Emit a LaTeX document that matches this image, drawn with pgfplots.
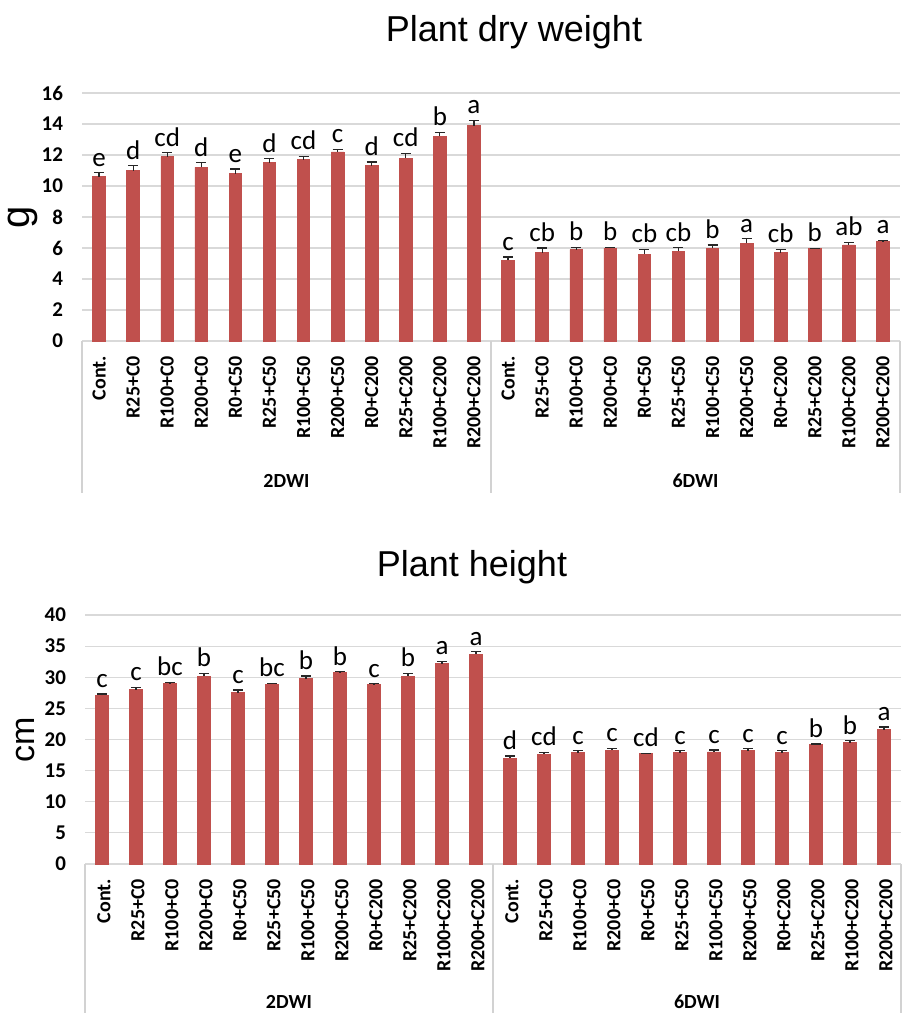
\documentclass[border=0pt]{standalone}
\usepackage{pgfplots}
\pgfplotsset{compat=1.18}
\usepackage{pgfplotstable}
\usepackage{fontspec}
\setmainfont{Carlito}
\newfontfamily\arialfont{Liberation Sans}
\definecolor{barred}{RGB}{192,80,77}
\definecolor{gridc}{RGB}{217,217,217}
\definecolor{sepc}{RGB}{210,210,210}

\pgfplotstableread{
x y e lab
0 10.6 0.25 e
1 11.0 0.30 d
2 11.9 0.25 cd
3 11.2 0.30 d
4 10.8 0.30 e
5 11.5 0.25 d
6 11.7 0.20 cd
7 12.2 0.15 c
8 11.3 0.25 d
9 11.8 0.30 cd
10 13.2 0.25 b
11 13.9 0.35 a
12 5.2 0.22 c
13 5.7 0.30 cb
14 5.9 0.15 b
15 6.0 0.05 b
16 5.6 0.32 cb
17 5.8 0.22 cb
18 6.0 0.20 b
19 6.3 0.30 a
20 5.7 0.20 cb
21 5.95 0.03 b
22 6.2 0.15 ab
23 6.4 0.10 a
}\dataW

\pgfplotstableread{
x y e lab
0 27.1 0.20 c
1 28.0 0.40 c
2 29.0 0.15 bc
3 30.2 0.45 b
4 27.5 0.45 c
5 28.9 0.10 bc
6 29.8 0.40 b
7 30.8 0.10 b
8 28.8 0.15 c
9 30.2 0.45 b
10 32.2 0.35 a
11 33.7 0.40 a
12 17.0 0.35 d
13 17.6 0.30 cd
14 17.9 0.30 c
15 18.3 0.30 c
16 17.7 0.10 cd
17 17.9 0.30 c
18 18.0 0.30 c
19 18.2 0.30 c
20 17.9 0.30 c
21 19.2 0.08 b
22 19.5 0.30 b
23 21.6 0.40 a
}\dataH

\pgfplotsset{
 mychart/.style={
  scale only axis,
  xmin=-0.5, xmax=23.5, ymin=0,
  enlargelimits=false,
  axis line style={draw=none},
  major tick length=0pt,
  ymajorgrids, grid style={gridc, line width=0.6pt},
  xtick={0,...,23},
  xticklabels={Cont.,R25+C0,R100+C0,R200+C0,R0+C50,R25+C50,R100+C50,R200+C50,R0+C200,R25+C200,R100+C200,R200+C200,Cont.,R25+C0,R100+C0,R200+C0,R0+C50,R25+C50,R100+C50,R200+C50,R0+C200,R25+C200,R100+C200,R200+C200},
  xticklabel style={yshift=-4pt, rotate=90, anchor=east, font=\bfseries\fontsize{10}{10}\selectfont},
  yticklabel style={xshift=-6pt, font=\bfseries\fontsize{10.5}{10.5}\selectfont},
  /pgf/number format/assume math mode=true,
  clip=false,
 },
 mybars/.style={ybar, bar width=0.37, fill=barred, draw=barred,
  error bars/.cd, y dir=plus, y explicit,
  error bar style={black!85, line width=0.6pt},
  error mark options={rotate=90, black!85, mark size=2.5pt, line width=0.6pt}},
 mylabels/.style={draw=none, mark=none, nodes near coords, point meta=explicit symbolic,
  nodes near coords style={anchor=south, inner sep=0.5pt, yshift=2.5pt, font=\fontsize{13.5}{13.5}\selectfont, black}},
}
\tikzset{
 sepline/.style={sepc, line width=0.6pt},
 grouplab/.style={font=\bfseries\fontsize{10}{10}\selectfont},
 ylab/.style={rotate=90, anchor=center},
}

\begin{document}
\begin{tikzpicture}
\path[use as bounding box, fill=white] (0pt,0pt) rectangle (451pt,-508.5pt);

\node[anchor=base, font=\arialfont\fontsize{18}{18}\selectfont] at (257pt,-20.8pt) {Plant dry weight};
\node[anchor=base, font=\arialfont\fontsize{18}{18}\selectfont] at (236pt,-288pt) {Plant height};

\begin{axis}[mychart, at={(41pt,-170.5pt)}, anchor=south west, width=409pt, height=124pt,
  ymax=16, ytick={0,2,...,16}]
\addplot[mybars] table[x=x, y=y, y error=e] {\dataW};
\addplot[mylabels] table[x=x, y expr=\thisrow{y}+\thisrow{e}, meta=lab] {\dataW};
\node[xshift=-29.5pt, ylab, font=\arialfont\fontsize{20}{20}\selectfont] at (rel axis cs:0,0.5) {g};
\draw[sepline] (axis cs:-0.5,0) -- ([yshift=-76pt]axis cs:-0.5,0);
\draw[sepline] (axis cs:11.5,0) -- ([yshift=-76pt]axis cs:11.5,0);
\draw[sepline] (axis cs:23.5,0) -- ([yshift=-76pt]axis cs:23.5,0);
\node[yshift=-70pt, grouplab] at (axis cs:5.5,0) {2DWI};
\node[yshift=-70pt, grouplab] at (axis cs:17.5,0) {6DWI};
\end{axis}

\begin{axis}[mychart, at={(42.5pt,-432pt)}, anchor=south west, width=408pt, height=124.5pt,
  ymax=40, ytick={0,5,...,40}, xticklabel style={yshift=-1pt}]
\addplot[mybars] table[x=x, y=y, y error=e] {\dataH};
\addplot[mylabels] table[x=x, y expr=\thisrow{y}+\thisrow{e}, meta=lab] {\dataH};
\node[xshift=-29.5pt, ylab, font=\arialfont\fontsize{17}{17}\selectfont] at (rel axis cs:0,0.5) {cm};
\draw[sepline] (axis cs:-0.5,0) -- ([yshift=-74.5pt]axis cs:-0.5,0);
\draw[sepline] (axis cs:11.5,0) -- ([yshift=-74.5pt]axis cs:11.5,0);
\draw[sepline] (axis cs:23.5,0) -- ([yshift=-74.5pt]axis cs:23.5,0);
\node[yshift=-69pt, grouplab] at (axis cs:5.5,0) {2DWI};
\node[yshift=-69pt, grouplab] at (axis cs:17.5,0) {6DWI};
\end{axis}
\end{tikzpicture}
\end{document}
